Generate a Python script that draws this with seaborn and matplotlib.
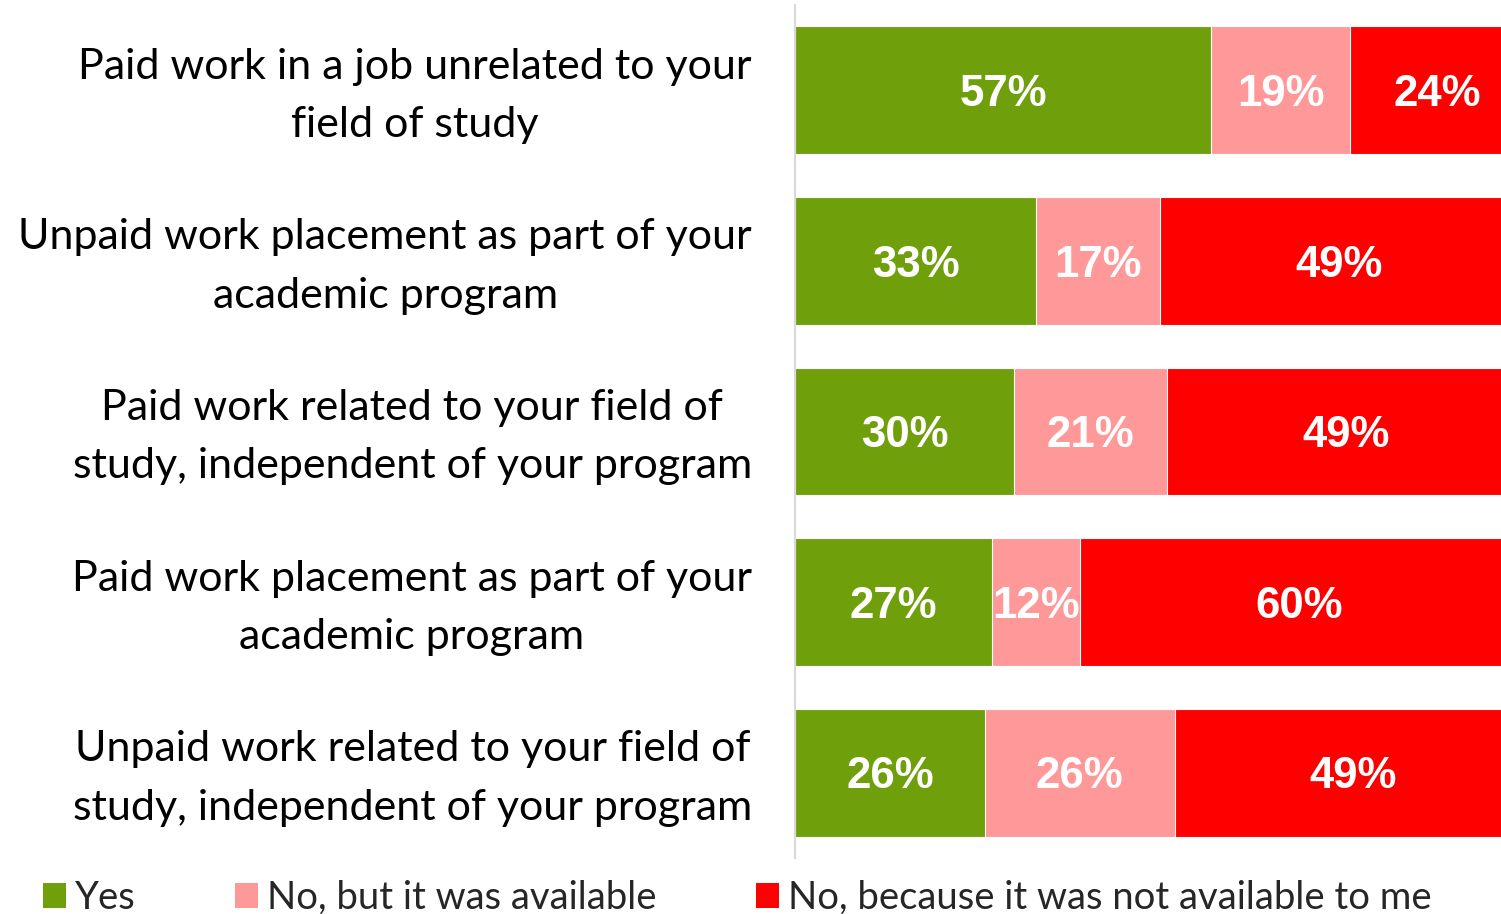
import matplotlib
matplotlib.use('Agg')
import matplotlib.pyplot as plt
import matplotlib.transforms as mtransforms
from matplotlib.patches import Patch
import seaborn as sns
import pandas as pd
import numpy as np

# Survey data (percent of respondents)
questions = [
    'Paid work in a job unrelated to your\nfield of study',
    'Unpaid work placement as part of your\nacademic program',
    'Paid work related to your field of\nstudy, independent of your program',
    'Paid work placement as part of your\nacademic program',
    'Unpaid work related to your field of\nstudy, independent of your program',
]
yes_vals = [57, 33, 30, 27, 26]
no_avail_vals = [19, 17, 21, 12, 26]
no_unavail_vals = [24, 49, 49, 60, 49]
series_names = ['Yes', 'No, but it was available', 'No, because it was not available to me']
colors = ['#6FA00B', '#FF9999', '#FF0000']

df = pd.DataFrame({
    'question': questions,
    'yes': yes_vals,
    'no_avail': no_avail_vals,
    'no_unavail': no_unavail_vals,
})
df['c1'] = df['yes']
df['c2'] = df['yes'] + df['no_avail']
df['c3'] = df['c2'] + df['no_unavail']

sns.set_style('white')
plt.rcParams['font.family'] = ['Lato', 'DejaVu Sans']

fig = plt.figure(figsize=(15.01, 9.14), dpi=100)
ax = fig.add_axes([795 / 1501, 1 - 858 / 914, 1 - 795 / 1501, 853 / 914])

# stacked bars: draw cumulative totals from the back to the front
for col, color in zip(['c3', 'c2', 'c1'], colors[::-1]):
    sns.barplot(data=df, x=col, y='question', color=color, width=0.75,
                orient='h', ax=ax, saturation=1, edgecolor='white', linewidth=0.8)

# value labels centred in each segment
starts = [np.zeros(len(df)), df['c1'].values, df['c2'].values]
for vals, st in zip([yes_vals, no_avail_vals, no_unavail_vals], starts):
    for i, (v, s) in enumerate(zip(vals, st)):
        ax.text(s + v / 2, i + 0.025, f'{v}%', ha='center', va='center', color='white',
                fontsize=31.5, fontweight='bold', family='Liberation Sans')

ax.set_xlim(0, 96.7)
ax.set_ylim(4.5, -0.5)
ax.set_xlabel('')
ax.set_ylabel('')
ax.set_xticks([])
for side in ['top', 'right', 'bottom']:
    ax.spines[side].set_visible(False)
ax.spines['left'].set_color('#D9D9D9')
ax.spines['left'].set_linewidth(1.5)
ax.tick_params(axis='y', length=0, pad=31)
# nudge the question labels up a little
shift = mtransforms.ScaledTranslation(0, 8 / 100, fig.dpi_scale_trans)
for lbl in ax.get_yticklabels():
    lbl.set_fontsize(31)
    lbl.set_multialignment('center')
    lbl.set_linespacing(1.66)
    lbl.set_color('black')
    lbl.set_transform(lbl.get_transform() + shift)

handles = [Patch(facecolor=c, edgecolor='none') for c in colors]
fig.legend(handles, series_names, loc='center left',
           bbox_to_anchor=(43 / 1501, 1 - 898 / 914), ncol=3, frameon=False,
           fontsize=27.5, handlelength=0.6, handleheight=0.6, handletextpad=0.24,
           columnspacing=2.6, borderpad=0, borderaxespad=0)

fig.savefig('out.png', dpi=100)
